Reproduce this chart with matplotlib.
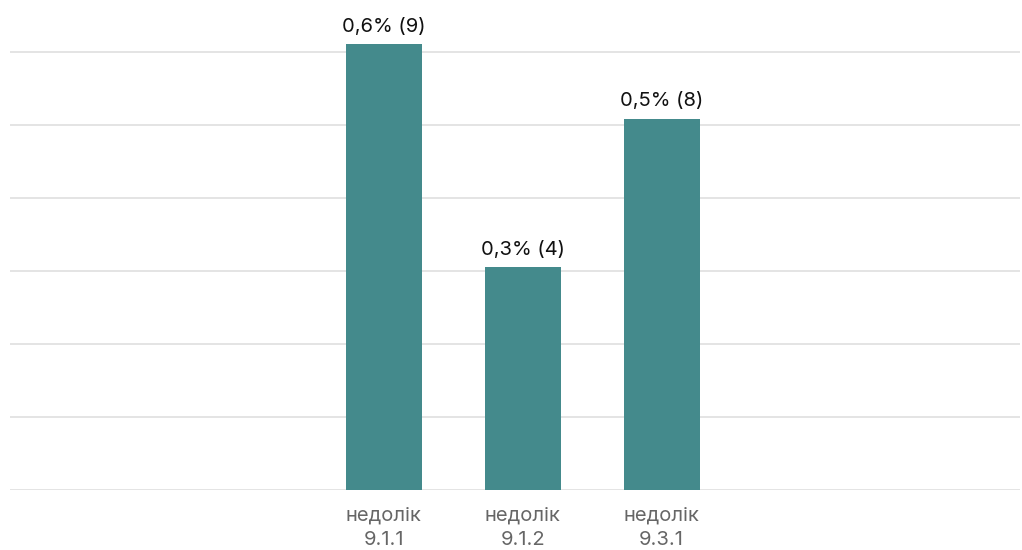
import matplotlib.pyplot as plt

categories = ['недолік\n9.1.1', 'недолік\n9.1.2', 'недолік\n9.3.1']
values = [0.611, 0.306, 0.509]
labels = ['0,6% (9)', '0,3% (4)', '0,5% (8)']

plt.rcParams['font.family'] = ['Inter', 'DejaVu Sans']

fig = plt.figure(figsize=(10.22, 5.5), dpi=100)
# axes placed so the grid spans x 10..1020 px and baseline sits at y ~490 px
ax = fig.add_axes([10 / 1022, (550 - 490.3) / 550, 1010 / 1022, (490.3 - 15.8) / 550])

x = list(range(len(categories)))
bars = ax.bar(x, values, width=0.547, color='#448a8c', zorder=3)

for b, lab in zip(bars, labels):
    ax.annotate(lab, (b.get_x() + b.get_width() / 2, b.get_height()),
                xytext=(0, 6), textcoords='offset points', ha='center', va='bottom',
                fontsize=14.5, color='#111111')

ax.set_xlim(-2.69, 4.58)
ax.set_ylim(0, 0.65)
ax.set_yticks([0, 0.1, 0.2, 0.3, 0.4, 0.5, 0.6])
ax.yaxis.grid(True, color='#dcdcdc', linewidth=1.1)
ax.set_axisbelow(True)
ax.tick_params(axis='y', left=False, labelleft=False)
ax.set_xticks(x)
ax.set_xticklabels(categories, fontsize=14.5, color='#666666', linespacing=1.45)
ax.tick_params(axis='x', length=0, pad=12)
for s in ax.spines.values():
    s.set_visible(False)

fig.savefig('out.png', dpi=100)
